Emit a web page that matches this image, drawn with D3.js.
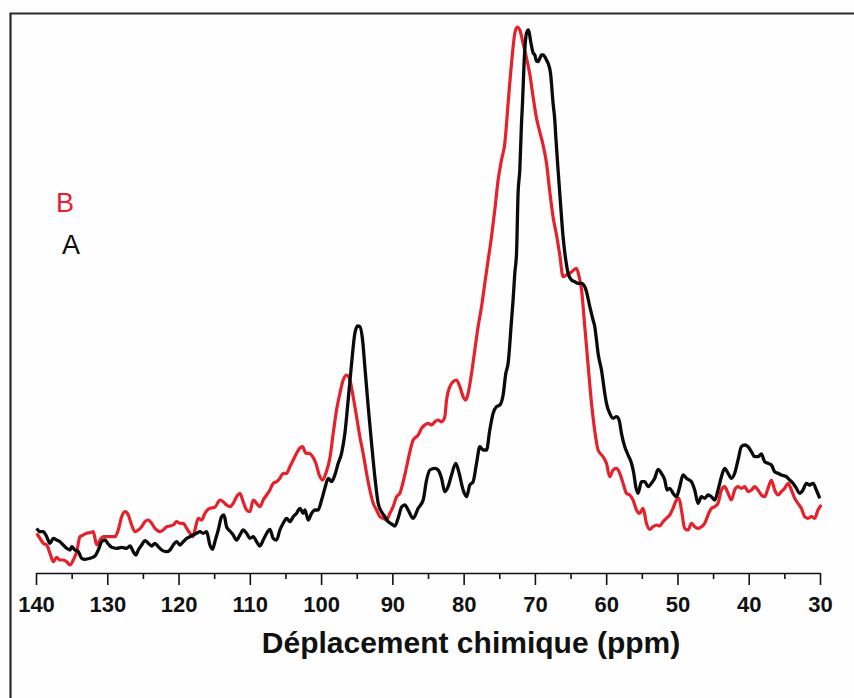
<!DOCTYPE html>
<html>
<head>
<meta charset="utf-8">
<script src="https://cdn.jsdelivr.net/npm/d3@7"></script>
<style>
  html, body { margin: 0; padding: 0; background: #fefefe; }
  svg { display: block; }
</style>
</head>
<body>
<svg id="chart" width="854" height="698"></svg>
<script>
// 13C CP-MAS spectra, chemical shift (ppm) vs intensity (arbitrary units)
const xTicks = [140, 130, 120, 110, 100, 90, 80, 70, 60, 50, 40, 30];
const xMinorTicks = [135, 125, 115, 105, 95, 85, 75, 65, 55, 45, 35];
const xLabel = "Déplacement chimique (ppm)";
const seriesNames = ["B", "A"];

// Spectrum A (black)
const ppmA = [139.90,139.44,138.98,138.50,138.04,137.57,137.10,136.63,136.17,135.69,135.23,134.99,134.53,134.07,133.59,133.13,132.43,131.73,131.26,130.79,130.32,129.86,129.38,128.68,127.98,127.28,126.82,126.35,125.98,125.65,125.18,124.71,124.25,123.77,123.31,122.85,122.37,121.67,121.21,120.74,120.27,119.80,119.34,118.86,118.40,117.94,117.46,117.00,116.54,116.06,115.60,115.22,114.90,114.43,113.96,113.63,113.25,112.79,112.33,111.85,111.39,110.93,110.45,109.99,109.52,109.05,108.58,108.12,107.64,107.18,106.72,106.24,105.78,105.32,104.84,104.38,103.91,103.44,102.97,102.51,102.27,101.81,101.33,100.87,100.41,99.93,99.47,99.00,98.53,98.07,97.60,97.13,96.66,96.20,95.72,95.26,94.88,94.56,94.18,93.86,93.39,92.92,92.46,91.99,91.52,91.05,90.59,90.11,89.65,89.19,88.71,88.25,87.79,87.08,86.38,85.68,85.20,84.74,84.04,83.58,83.10,82.64,82.18,81.70,81.10,80.63,80.07,79.59,79.13,78.67,78.19,77.73,77.27,76.79,76.33,75.86,75.39,74.92,74.46,74.08,73.76,73.28,73.06,72.82,72.58,72.36,72.12,71.88,71.74,71.52,71.18,70.90,70.58,70.25,70.01,69.78,69.55,69.31,69.08,68.85,68.61,68.37,68.15,67.81,67.45,67.21,67.07,66.75,66.41,66.05,65.67,65.34,64.87,64.41,63.94,63.47,63.00,62.76,62.30,61.84,61.60,61.36,61.14,60.66,60.20,59.96,59.50,59.03,58.56,58.19,57.86,57.39,56.93,56.45,56.13,55.85,55.53,55.05,54.59,54.13,53.65,53.19,52.72,52.25,51.78,51.46,51.08,50.62,50.14,49.68,49.22,48.74,48.04,47.58,47.11,46.64,46.17,45.71,45.23,44.77,44.31,43.83,43.37,42.90,42.43,41.97,41.50,41.03,40.56,40.10,39.62,39.16,38.70,38.22,37.76,37.29,36.82,36.36,35.89,35.42,34.71,34.25,33.79,33.31,32.85,32.39,31.91,31.45,30.98,30.51,30.04];
const intensityA = [44.7,41.3,41.3,36.3,29.7,34.7,33,31.3,28,24.7,23,26.3,23,21.3,14.7,13.7,14.7,17,23,31.3,33,29,25.7,24.7,25.7,24.7,27,21.3,18,23,28,32.3,29.7,27,29.7,26.3,23,21.3,23,28,31.3,28,31.3,34.7,36.3,38,39.7,41.3,39.7,41.3,28,23.7,31.3,43,56.3,58,46,42,38,33,38,43,39.7,34.7,36.3,31.3,27,33,39.7,43.7,34.7,33,43,49.7,54.7,51.3,56.3,59.7,64.7,59.7,63,53,59.7,63,63,73,84.7,94.7,91.3,98,109.7,119.7,139.7,173,209.7,239.7,247,246.3,233,206.3,166.3,129.7,96.3,69.7,61.3,56.3,51.3,49,47,54.7,66,68,63,54.7,64.7,73,93,103,104.7,103,94.7,81.3,86.3,98,109.7,99.7,83,76.3,88,91.3,109.7,126.3,123,123,143,159.7,166.3,168,178,199.7,209.7,253,273,300,319.7,380,403,450,470,510,539.7,543,531,520,518,512,511.3,514.7,518,518,516.3,513,509.7,499.7,469.7,453,436.3,403,369.7,336.3,313,299.7,293,291.3,289.7,289.7,286.3,281.3,266.3,253,246.3,233,219.7,203,179.7,169.7,159.7,154.7,156.3,153,139.7,126.3,118,109.7,99.7,86.3,79.7,91.3,91.3,86.3,89.7,94.7,103.7,99.7,93,83,84.7,79.7,76.3,86.3,98,94.7,91.3,83,69.7,76.3,74.7,78,76.3,73,83,96.3,104.7,99.7,94.7,99.7,113,126.3,128,126.3,121.3,116.3,116.3,119,111.3,109.7,108,101.3,99.7,98,96.3,93,89.7,84.7,79.7,83,89.7,88,89.7,83,74.7];

// Spectrum B (red)
const ppmB = [139.90,139.44,138.98,138.50,138.04,137.57,137.10,136.63,136.17,135.69,135.23,134.77,134.29,133.83,133.37,132.89,132.43,131.96,131.49,131.02,130.56,129.86,128.92,128.46,127.98,127.52,127.05,126.58,126.12,125.65,125.18,124.71,124.25,123.77,123.31,122.61,122.15,121.67,121.21,120.74,120.27,119.80,119.34,118.86,118.40,118.02,117.70,117.24,116.76,116.30,115.60,114.90,114.19,113.73,113.25,112.79,112.33,111.85,111.39,110.93,110.45,109.99,109.52,109.05,108.58,108.12,107.64,107.18,106.72,106.24,105.78,105.32,104.84,104.38,103.91,103.44,102.97,102.60,102.13,101.67,101.19,100.73,100.27,99.79,99.33,98.77,98.30,97.83,97.36,96.90,96.42,95.96,95.50,95.02,94.56,94.10,93.62,93.16,92.69,92.22,91.75,91.29,90.81,90.35,89.89,89.41,88.95,88.49,88.01,87.55,87.08,86.61,86.38,85.91,85.44,84.98,84.50,84.04,83.58,83.10,82.64,82.40,81.94,81.47,81.00,80.53,80.07,79.69,79.37,78.89,78.43,77.97,77.49,77.03,76.56,76.09,75.63,75.16,74.69,74.22,73.76,73.28,72.82,72.50,72.12,71.66,71.18,70.72,70.25,69.78,69.31,68.85,68.37,67.91,67.45,66.97,66.51,66.05,65.57,65.11,64.55,64.17,63.80,63.47,63.00,62.54,62.06,61.60,61.14,60.44,59.96,59.50,59.03,58.56,58.09,57.63,57.15,56.69,56.23,55.75,55.29,54.83,54.35,53.89,53.42,52.95,52.48,52.02,51.54,51.08,50.62,50.14,49.78,49.44,48.98,48.52,48.04,47.58,47.11,46.64,46.17,45.71,45.23,44.77,44.31,43.83,43.37,42.90,42.43,41.97,41.50,41.03,40.56,40.10,39.62,39.16,38.70,38.22,37.76,37.29,36.82,36.36,35.89,35.42,34.95,34.49,34.01,33.55,33.09,32.61,32.15,31.69,31.21,30.75,30.28,29.81];
const intensityB = [39.7,34.7,29.7,28,19.7,11.3,15.7,13,13,11.3,8,13,21.3,36.3,38,39.7,40.3,41.3,28,33,36.3,36.3,36.3,43,56.3,61.3,58,48,41.3,43,46.3,51.3,53,49.7,44.7,41.3,43,46.3,47,48,51.3,49.7,49.7,44.7,39.7,36.3,43,54.7,53,59.7,64.7,65.7,73,71.3,68,66.3,69.7,76.3,79.7,71.3,63,61.3,73,69.7,66.3,73,78,83,89.7,91.3,94.7,99.7,99.7,106.3,113,119.7,125,126.3,119.7,119.7,116.3,109.7,98,93,99.7,114.7,139.7,163,179.7,193,198,193,176.3,156.3,136.3,119.7,99.7,83,69.7,63,56.3,54.7,53,59.7,66.3,76.3,79.7,91,106,121,133,136.3,138,144.7,148,149.7,148,151.3,153,151.3,156.3,173,186.3,191.3,193,186.3,176.3,173,179.7,199.7,223,246.3,266.3,289.7,313,336.3,363,393,413,429.7,469.7,509.7,539.7,546,543,529.7,515,499,476,455,441,428,409.7,381,356,338,318,296.3,298,299.7,303,304.7,296.3,284,246.3,208,170,142,123,116.3,109.7,96.3,103,104.7,99.7,89.7,79.7,78,73,63,59.7,64.7,49.7,43.7,46.3,48,47,51.3,54.7,58,64.7,73,74.7,63,44.7,43,49.7,46.3,44.7,46.3,49.7,58,64.7,66.3,69.7,83,86.3,79.7,73,83,86.3,84.7,86.3,81.3,83,86.3,83,78,76.3,84.7,93,83,78,81.3,84.7,89.7,83,74.7,69.7,64.7,56.3,54.7,56.3,54.7,63,68];

const colors = { A: "#0b0b0b", B: "#e5212b" };

const svg = d3.select("#chart");
const W = 854, H = 698;

// Outer frame (left and top edges)
svg.append("path")
  .attr("d", `M10.5,${H} V13.5 H${W}`)
  .attr("fill", "none")
  .attr("stroke", "#2a2a2a")
  .attr("stroke-width", 2.2);

const x = d3.scaleLinear().domain([140, 30]).range([36, 820]);
const y = d3.scaleLinear().domain([0, 545]).range([573, 28]);

const axisY = 573;

// Minor ticks
svg.append("g")
  .attr("transform", `translate(0,${axisY})`)
  .call(d3.axisBottom(x).tickValues(xMinorTicks).tickSize(6).tickFormat(""))
  .call(g => g.select(".domain").remove())
  .call(g => g.selectAll("line").attr("stroke", "#111").attr("stroke-width", 1.6));

// Major ticks and labels
const xAxis = svg.append("g")
  .attr("transform", `translate(0,${axisY})`)
  .call(d3.axisBottom(x).tickValues(xTicks).tickSize(12).tickSizeOuter(0).tickPadding(11).tickFormat(d3.format("d")));
xAxis.select(".domain").attr("stroke", "#111").attr("stroke-width", 1.6);
xAxis.selectAll(".tick line").attr("stroke", "#111").attr("stroke-width", 1.6);
xAxis.selectAll(".tick text")
  .attr("fill", "#111")
  .style("font-family", "'Liberation Sans', Arial, sans-serif")
  .style("font-weight", "bold")
  .style("font-size", "22px");

svg.append("text")
  .attr("x", 471)
  .attr("y", 653)
  .attr("text-anchor", "middle")
  .attr("fill", "#111")
  .style("font-family", "'Liberation Sans', Arial, sans-serif")
  .style("font-weight", "bold")
  .style("font-size", "30px")
  .text(xLabel);

const line = d3.line()
  .x(d => x(d[0]))
  .y(d => y(d[1]))
  .curve(d3.curveMonotoneX);

const dataB = ppmB.map((p, i) => [p, intensityB[i]]);
const dataA = ppmA.map((p, i) => [p, intensityA[i]]);

svg.append("path")
  .datum(dataB)
  .attr("d", line)
  .attr("fill", "none")
  .attr("stroke", colors.B)
  .attr("stroke-width", 3.2)
  .attr("stroke-linejoin", "round");

svg.append("path")
  .datum(dataA)
  .attr("d", line)
  .attr("fill", "none")
  .attr("stroke", colors.A)
  .attr("stroke-width", 3.3)
  .attr("stroke-linejoin", "round");

// Legend labels
const legendPos = [[56, 212], [62, 254]];
seriesNames.forEach((name, i) => {
  svg.append("text")
    .attr("x", legendPos[i][0])
    .attr("y", legendPos[i][1])
    .attr("fill", colors[name])
    .style("font-family", "'Liberation Sans', Arial, sans-serif")
    .style("font-size", "27px")
    .text(name);
});
</script>
</body>
</html>
